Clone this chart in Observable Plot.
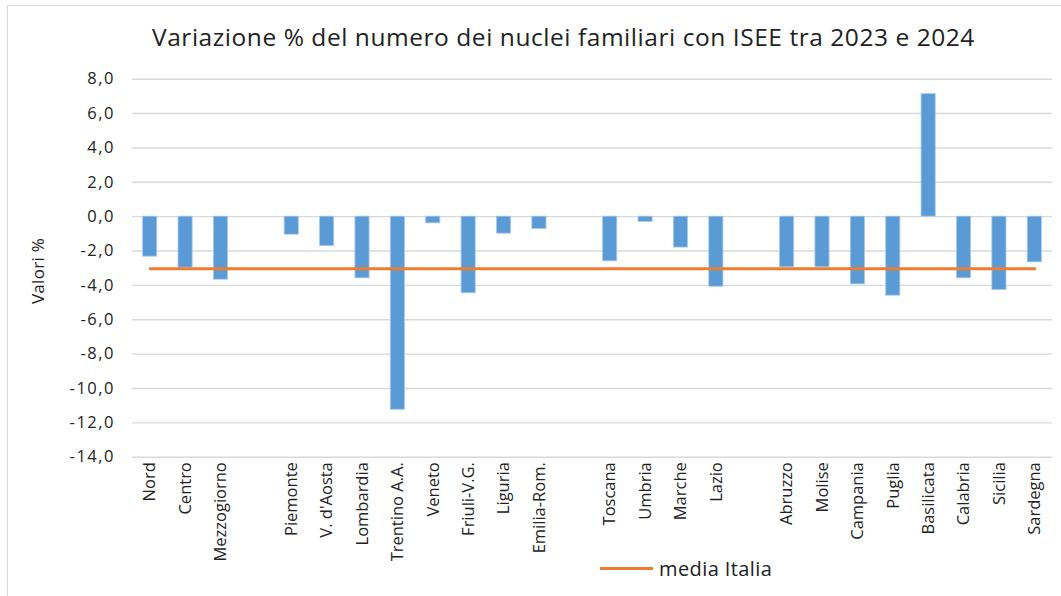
<!DOCTYPE html>
<html>
<head>
<meta charset="utf-8">
<script src="https://cdn.jsdelivr.net/npm/d3@7"></script>
<script src="https://cdn.jsdelivr.net/npm/@observablehq/plot@0.6"></script>
<style>
  body { margin: 0; background: #fff; font-family: "Open Sans", sans-serif; }
  #wrap { position: relative; width: 1061px; height: 596px; overflow: hidden; background: #fff; }
  #frame { position: absolute; left: 7px; top: 5px; width: 1080px; height: 620px; border: 1.5px solid #d9d9d9; box-sizing: border-box; }
  #chart { position: absolute; left: 0; top: 0; }
  #title { position: absolute; left: 152px; top: 20px; font-size: 24.5px; letter-spacing: 0.55px; line-height: 34px; color: #222; white-space: nowrap; }
  #ylab { position: absolute; left: 37px; top: 271px; transform: translate(-50%, -50%) rotate(-90deg); font-size: 17px; letter-spacing: 0.3px; color: #222; white-space: nowrap; }
  #legend { position: absolute; left: 600px; top: 555px; height: 26px; display: flex; align-items: center; font-size: 20px; letter-spacing: 0.4px; color: #222; }
  #legend .sw { width: 53px; height: 3px; background: #ED7D31; margin-right: 6px; }
</style>
</head>
<body>
<div id="wrap">
  <div id="frame"></div>
  <div id="chart"></div>
  <div id="title"></div>
  <div id="ylab"></div>
  <div id="legend"><div class="sw"></div><span id="legtext"></span></div>
</div>
<script>
const titleText = "Variazione % del numero dei nuclei familiari con ISEE tra 2023 e 2024";
const yLabel = "Valori %";
const legendLabel = "media Italia";

const categories = ["Nord", "Centro", "Mezzogiorno", "_g1",
  "Piemonte", "V. d'Aosta", "Lombardia", "Trentino A.A.", "Veneto", "Friuli-V.G.", "Liguria", "Emilia-Rom.", "_g2",
  "Toscana", "Umbria", "Marche", "Lazio", "_g3",
  "Abruzzo", "Molise", "Campania", "Puglia", "Basilicata", "Calabria", "Sicilia", "Sardegna"];
const values = [-2.33, -2.97, -3.67, null,
  -1.05, -1.71, -3.59, -11.24, -0.39, -4.46, -0.99, -0.72, null,
  -2.60, -0.31, -1.80, -4.08, null,
  -2.95, -2.95, -3.94, -4.60, 7.13, -3.59, -4.27, -2.66];
const mediaItalia = -3.03;
const yTicks = [-14, -12, -10, -8, -6, -4, -2, 0, 2, 4, 6, 8];

const bars = categories.map((c, i) => ({c, v: values[i]})).filter(d => d.v != null);
const media = categories.map(c => ({c, v: mediaItalia}));

document.getElementById("title").textContent = titleText;
document.getElementById("ylab").textContent = yLabel;
document.getElementById("legtext").textContent = legendLabel;

const chart = Plot.plot({
  width: 1061,
  height: 596,
  marginLeft: 132,
  marginRight: 9,
  marginTop: 78.7,
  marginBottom: 139.3,
  style: {fontFamily: "'Open Sans', sans-serif", fontSize: "16px", color: "#222", background: "transparent"},
  x: {domain: categories, paddingInner: 0.6, paddingOuter: 0.3, round: false, label: null},
  y: {domain: [-14, 8], label: null},
  marks: [
    Plot.gridY(yTicks, {stroke: "#d9d9d9", strokeOpacity: 1, strokeWidth: 1.4}),
    Plot.barY(bars, {x: "c", y: "v", fill: "#5B9BD5", stroke: "#a9c9ea", strokeWidth: 0.8}),
    Plot.lineY(media, {x: "c", y: "v", stroke: "#ED7D31", strokeWidth: 3}),
    Plot.axisY(yTicks, {tickSize: 0, tickPadding: 17.5, tickFormat: d => d.toFixed(1).replace(".", ","), fontSize: 16.5, label: null}),
    Plot.axisX({tickSize: 0, tickRotate: -90, tickPadding: 5, tickFormat: d => d.startsWith("_") ? "" : d, fontSize: 16.5, label: null})
  ]
});
d3.select(chart).selectAll("g").filter(function() {
  const a = this.getAttribute("aria-label") || "";
  return a.startsWith("y-axis tick label");
}).selectAll("text").style("letter-spacing", "1.5px");
document.getElementById("chart").appendChild(chart);
</script>
</body>
</html>
